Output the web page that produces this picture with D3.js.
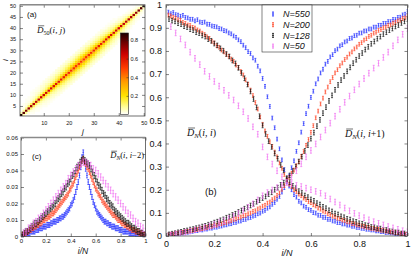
<!DOCTYPE html>
<html lang="en">
<head>
<meta charset="utf-8">
<script src="https://d3js.org/d3.v7.min.js"></script>
<style>
    body { margin: 0; background: #fff; }
    text { font-family: "Liberation Sans", Arial, sans-serif; fill: #111; }
    .math { font-family: "Liberation Serif", "DejaVu Serif", serif; }
</style>
</head>
<body>
<svg id="fig" width="415" height="263"></svg>
<script>
// ---- data ----
const seriesNames = ["N=550", "N=200", "N=128", "N=50"];

// (b) D_N(i,i), points at i/N
const diag550 = [0.968,0.961,0.966,0.957,0.955,0.950,0.954,0.945,0.943,0.937,
    0.937,0.930,0.935,0.925,0.923,0.925,0.916,0.915,0.908,0.906,
    0.904,0.897,0.895,0.888,0.886,0.878,0.874,0.865,0.859,0.848,
    0.840,0.825,0.814,0.797,0.789,0.770,0.760,0.734,0.714,0.681,
    0.647,0.602,0.560,0.510,0.468,0.419,0.377,0.329,0.287,0.240,
    0.216,0.200,0.179,0.168,0.150,0.143,0.129,0.124,0.114,0.111,
    0.101,0.099,0.090,0.089,0.081,0.080,0.072,0.072,0.065,0.064,
    0.058,0.058,0.052,0.052,0.047,0.047,0.042,0.042,0.037,0.037,
    0.033,0.033,0.029,0.029,0.026,0.026,0.022,0.022,0.019,0.019,
    0.015,0.016,0.013,0.013,0.010,0.011,0.007,0.008,0.005,0.006];
const diag200 = [0.955,0.951,0.945,0.942,0.935,0.932,0.923,0.919,0.912,0.910,
    0.902,0.899,0.891,0.886,0.877,0.871,0.861,0.854,0.842,0.835,
    0.823,0.816,0.804,0.796,0.785,0.777,0.765,0.755,0.739,0.728,
    0.711,0.696,0.675,0.656,0.631,0.607,0.577,0.549,0.514,0.483,
    0.454,0.431,0.407,0.387,0.363,0.342,0.316,0.293,0.266,0.243,
    0.224,0.213,0.200,0.192,0.181,0.174,0.164,0.158,0.149,0.144,
    0.135,0.130,0.121,0.116,0.108,0.104,0.096,0.093,0.086,0.083,
    0.077,0.075,0.069,0.067,0.061,0.060,0.054,0.053,0.048,0.047,
    0.043,0.042,0.038,0.037,0.033,0.033,0.029,0.029,0.025,0.025,
    0.021,0.021,0.017,0.017,0.014,0.014,0.010,0.010,0.007,0.007];
const diag128 = [0.938,0.931,0.928,0.920,0.916,0.907,0.903,0.894,
    0.890,0.881,0.877,0.867,0.862,0.851,0.844,0.832,
    0.824,0.811,0.801,0.787,0.776,0.759,0.746,0.727,
    0.705,0.682,0.655,0.625,0.592,0.556,0.518,0.478,
    0.441,0.410,0.385,0.357,0.334,0.307,0.283,0.250,
    0.233,0.217,0.207,0.194,0.186,0.175,0.168,0.158,
    0.152,0.142,0.136,0.126,0.120,0.111,0.106,0.097,
    0.093,0.085,0.081,0.074,0.071,0.064,0.061,0.055,
    0.053,0.047,0.045,0.039,0.038,0.033,0.032,0.027,
    0.026,0.021,0.020,0.016,0.015,0.011,0.011,0.007];
const diag50 = [0.905,0.878,0.852,0.826,0.795,0.768,0.741,0.712,0.690,0.668,
    0.648,0.630,0.608,0.588,0.563,0.537,0.508,0.472,0.440,0.385,
    0.342,0.311,0.282,0.256,0.232,0.226,0.219,0.214,0.207,0.200,
    0.193,0.185,0.174,0.160,0.147,0.134,0.121,0.109,0.098,0.088,
    0.079,0.070,0.062,0.055,0.048,0.041,0.035,0.029,0.023,0.018];

// (b) D_N(i,i+1)
const off550 = [0.004,0.007,0.007,0.010,0.010,0.013,0.013,0.017,0.016,0.020,
    0.020,0.023,0.023,0.027,0.026,0.030,0.030,0.034,0.034,0.038,
    0.038,0.042,0.043,0.047,0.048,0.052,0.053,0.058,0.059,0.064,
    0.065,0.071,0.072,0.078,0.080,0.086,0.089,0.096,0.099,0.107,
    0.111,0.120,0.126,0.137,0.145,0.159,0.171,0.190,0.209,0.236,
    0.260,0.295,0.325,0.366,0.403,0.449,0.486,0.529,0.561,0.599,
    0.626,0.658,0.679,0.705,0.721,0.743,0.755,0.774,0.784,0.801,
    0.808,0.822,0.827,0.839,0.843,0.854,0.856,0.866,0.868,0.877,
    0.878,0.886,0.887,0.895,0.895,0.903,0.903,0.911,0.911,0.919,
    0.919,0.927,0.927,0.936,0.936,0.945,0.946,0.956,0.959,0.970];
const off200 = [0.005,0.008,0.008,0.012,0.012,0.016,0.016,0.020,0.020,0.024,
    0.024,0.028,0.028,0.032,0.032,0.036,0.037,0.041,0.042,0.047,
    0.047,0.052,0.053,0.058,0.059,0.064,0.066,0.072,0.074,0.080,
    0.082,0.088,0.090,0.096,0.099,0.106,0.109,0.117,0.121,0.129,
    0.133,0.142,0.147,0.157,0.164,0.176,0.186,0.202,0.218,0.241,
    0.254,0.271,0.285,0.304,0.321,0.344,0.365,0.392,0.417,0.448,
    0.477,0.511,0.540,0.571,0.596,0.623,0.644,0.667,0.685,0.705,
    0.719,0.736,0.748,0.763,0.773,0.787,0.796,0.809,0.817,0.829,
    0.836,0.847,0.853,0.863,0.868,0.877,0.881,0.889,0.893,0.900,
    0.903,0.910,0.913,0.920,0.923,0.930,0.933,0.940,0.943,0.951];
const off128 = [0.007,0.010,0.012,0.016,0.018,0.022,0.024,0.028,
    0.030,0.034,0.037,0.041,0.044,0.049,0.052,0.058,
    0.062,0.068,0.072,0.079,0.084,0.091,0.096,0.104,
    0.110,0.118,0.124,0.132,0.139,0.148,0.155,0.164,
    0.171,0.181,0.189,0.200,0.209,0.221,0.231,0.246,
    0.262,0.281,0.300,0.322,0.343,0.368,0.393,0.421,
    0.447,0.475,0.502,0.531,0.557,0.584,0.608,0.632,
    0.653,0.674,0.692,0.712,0.729,0.747,0.762,0.778,
    0.791,0.806,0.818,0.831,0.841,0.853,0.862,0.873,
    0.881,0.890,0.897,0.906,0.912,0.921,0.928,0.938];
const off50 = [0.004,0.008,0.012,0.016,0.021,0.026,0.031,0.037,0.043,0.050,
    0.058,0.066,0.075,0.085,0.097,0.110,0.124,0.139,0.156,0.174,
    0.188,0.199,0.209,0.219,0.232,0.255,0.282,0.312,0.342,0.370,
    0.398,0.428,0.458,0.488,0.518,0.548,0.578,0.605,0.632,0.657,
    0.681,0.704,0.726,0.747,0.772,0.795,0.822,0.848,0.872,0.897];

// (c) D_N(i,i-2)
const sec550 = [0.000,0.001,0.001,0.001,0.002,0.002,0.002,0.003,0.003,0.003,
    0.003,0.004,0.004,0.004,0.005,0.005,0.005,0.006,0.006,0.006,
    0.007,0.007,0.007,0.008,0.008,0.009,0.009,0.009,0.010,0.010,
    0.011,0.011,0.012,0.012,0.013,0.014,0.015,0.016,0.017,0.019,
    0.020,0.022,0.024,0.027,0.030,0.033,0.037,0.042,0.048,0.051,
    0.045,0.041,0.037,0.033,0.030,0.027,0.024,0.021,0.019,0.017,
    0.015,0.014,0.013,0.012,0.011,0.010,0.009,0.009,0.008,0.008,
    0.007,0.007,0.006,0.006,0.006,0.005,0.005,0.005,0.004,0.004,
    0.004,0.003,0.003,0.003,0.003,0.003,0.002,0.002,0.002,0.002,
    0.002,0.001,0.001,0.001,0.001,0.001,0.001,0.000,0.000,0.000];
const sec200 = [0.001,0.001,0.002,0.002,0.003,0.003,0.004,0.004,0.005,0.005,
    0.006,0.006,0.007,0.007,0.008,0.008,0.009,0.010,0.010,0.011,
    0.011,0.012,0.012,0.013,0.014,0.014,0.015,0.016,0.017,0.018,
    0.019,0.020,0.021,0.022,0.023,0.024,0.025,0.026,0.028,0.029,
    0.031,0.032,0.034,0.036,0.038,0.040,0.042,0.044,0.046,0.047,
    0.045,0.044,0.042,0.041,0.039,0.037,0.035,0.033,0.031,0.029,
    0.028,0.026,0.025,0.024,0.022,0.021,0.020,0.019,0.018,0.017,
    0.016,0.015,0.014,0.013,0.013,0.012,0.011,0.010,0.010,0.009,
    0.008,0.008,0.007,0.007,0.006,0.006,0.005,0.005,0.004,0.004,
    0.004,0.003,0.003,0.003,0.002,0.002,0.002,0.001,0.001,0.001];
const sec128 = [0.001,0.002,0.003,0.003,0.004,0.005,0.006,0.007,
    0.008,0.008,0.009,0.010,0.011,0.012,0.013,0.014,
    0.015,0.016,0.017,0.018,0.019,0.020,0.022,0.023,
    0.024,0.026,0.027,0.029,0.030,0.032,0.033,0.035,
    0.037,0.038,0.040,0.042,0.043,0.045,0.046,0.047,
    0.046,0.045,0.044,0.043,0.041,0.039,0.037,0.035,
    0.033,0.031,0.030,0.028,0.026,0.025,0.023,0.022,
    0.020,0.019,0.018,0.016,0.015,0.014,0.013,0.012,
    0.011,0.010,0.009,0.008,0.008,0.007,0.006,0.005,
    0.005,0.004,0.003,0.003,0.002,0.002,0.001,0.001];
const sec50 = [0.002,0.003,0.005,0.006,0.008,0.009,0.011,0.012,0.014,0.016,
    0.018,0.020,0.022,0.024,0.026,0.028,0.030,0.032,0.035,0.037,
    0.039,0.041,0.043,0.044,0.045,0.045,0.044,0.043,0.041,0.040,
    0.038,0.036,0.034,0.032,0.030,0.028,0.026,0.024,0.022,0.020,
    0.018,0.016,0.014,0.013,0.011,0.009,0.008,0.006,0.005,0.003];

const errB = [0.008, 0.008, 0.010, 0.012];
const errC = [0.0015, 0.0015, 0.0018, 0.002];

// (a) D_50(i,j): one array per |i-j| = 0..6, indexed by min(i,j)
const heat0 = [0.87,0.8,0.75,0.72,0.7,0.68,0.67,0.66,0.65,0.64,0.63,0.62,0.61,0.6,0.59,0.58,0.57,0.56,0.55,0.54,
    0.53,0.52,0.51,0.5,0.5,0.5,0.51,0.52,0.53,0.54,0.55,0.56,0.57,0.58,0.59,0.6,0.61,0.62,0.63,0.64,
    0.65,0.66,0.67,0.68,0.69,0.7,0.72,0.75,0.8,0.87];
const heat1 = [0.06,0.08,0.1,0.12,0.13,0.14,0.15,0.16,0.17,0.18,0.19,0.2,0.21,0.22,0.23,0.24,0.25,0.26,0.27,0.28,
    0.29,0.29,0.3,0.3,0.3,0.3,0.29,0.29,0.28,0.27,0.26,0.25,0.24,0.23,0.22,0.21,0.2,0.19,0.18,0.17,
    0.16,0.15,0.14,0.13,0.12,0.1,0.08,0.06,0.05];
const heat2 = [0.01,0.02,0.03,0.04,0.05,0.06,0.07,0.08,0.09,0.1,0.1,0.11,0.12,0.13,0.14,0.15,0.16,0.17,0.18,0.18,
    0.19,0.19,0.2,0.2,0.2,0.2,0.19,0.19,0.18,0.18,0.17,0.16,0.15,0.14,0.13,0.12,0.11,0.1,0.1,0.09,
    0.08,0.07,0.06,0.05,0.04,0.03,0.02,0.01];
const heat3 = [0.01,0.01,0.02,0.02,0.03,0.04,0.04,0.05,0.06,0.06,0.07,0.08,0.08,0.09,0.1,0.1,0.11,0.11,0.12,0.12,
    0.13,0.13,0.14,0.14,0.14,0.13,0.13,0.12,0.12,0.11,0.11,0.1,0.1,0.09,0.08,0.08,0.07,0.06,0.06,0.05,
    0.04,0.04,0.03,0.02,0.02,0.01,0.01];
const heat4 = [0,0.01,0.01,0.01,0.02,0.02,0.03,0.03,0.04,0.04,0.05,0.05,0.06,0.06,0.07,0.07,0.08,0.08,0.08,0.09,
    0.09,0.09,0.09,0.09,0.09,0.09,0.09,0.08,0.08,0.08,0.07,0.07,0.06,0.06,0.05,0.05,0.04,0.04,0.03,0.03,
    0.02,0.02,0.01,0.01,0,0];
const heat5 = [0,0,0.01,0.01,0.01,0.02,0.02,0.02,0.03,0.03,0.03,0.04,0.04,0.04,0.04,0.05,0.05,0.05,0.05,0.05,
    0.05,0.05,0.05,0.05,0.05,0.05,0.05,0.04,0.04,0.04,0.04,0.03,0.03,0.03,0.02,0.02,0.02,0.01,0.01,0.01,
    0,0,0,0,0];
const heat6 = [0,0,0,0,0.01,0.01,0.01,0.01,0.01,0.02,0.02,0.02,0.02,0.02,0.03,0.03,0.03,0.03,0.03,0.03,
    0.03,0.03,0.03,0.03,0.03,0.03,0.03,0.03,0.02,0.02,0.02,0.02,0.02,0.01,0.01,0.01,0.01,0.01,0,0,
    0,0,0,0];

// tick values
const aTicksX = [10, 20, 30, 40, 50];
const aTicksY = [5, 10, 15, 20, 25, 30, 35, 40, 45, 50];
const cbTicks = [0.2, 0.4, 0.6, 0.8];
const bTicksX = [0, 0.2, 0.4, 0.6, 0.8, 1];
const bTicksY = [0, 0.1, 0.2, 0.3, 0.4, 0.5, 0.6, 0.7, 0.8, 0.9, 1];
const cTicksX = [0, 0.2, 0.4, 0.6, 0.8, 1];
const cTicksY = [0, 0.01, 0.02, 0.03, 0.04, 0.05, 0.06];

// ---- drawing ----
const svg = d3.select("#fig");
const colors = ["#1f2cff", "#ff4424", "#111111", "#f070f0"];
const fmt = d3.format("~g");

const ax = d3.scaleLinear().domain([0.5, 50.5]).range([20, 145]);
const ay = d3.scaleLinear().domain([0.5, 50.5]).range([116, 4.7]);
const bx = d3.scaleLinear().domain([0, 1]).range([166, 407.5]);
const by = d3.scaleLinear().domain([0, 1]).range([236, 4.7]);
const cx = d3.scaleLinear().domain([0, 1]).range([21, 145.5]);
const cy = d3.scaleLinear().domain([0, 0.06]).range([236.5, 137.5]);

const heatColor = d3.scaleLinear()
    .domain([0, 0.08, 0.2, 0.35, 0.5, 0.65, 0.8, 0.875])
    .range(["#ffffff", "#ffff9a", "#ffe400", "#ff9d00", "#ff3c00", "#cc0000", "#5a0000", "#1a0000"])
    .clamp(true);

function clipFor(id, x, y) {
    svg.append("clipPath").attr("id", id).append("rect")
        .attr("x", x.range()[0]).attr("y", y.range()[1])
        .attr("width", x.range()[1] - x.range()[0])
        .attr("height", y.range()[0] - y.range()[1]);
    return svg.append("g").attr("clip-path", `url(#${id})`);
}

function drawAxes(x, y, xt, yt, size, padX, padY) {
    const [x0, x1] = x.range(), [y0, y1] = y.range();
    const g = svg.append("g");
    const style = sel => {
        sel.select(".domain").remove();
        sel.selectAll(".tick line").attr("stroke", "#333").attr("stroke-width", 0.6);
        sel.selectAll("text").style("font-size", size + "px").attr("fill", "#111");
    };
    g.append("g").attr("transform", `translate(0,${y0})`)
        .call(d3.axisBottom(x).tickValues(xt).tickSize(-3).tickPadding(padX).tickFormat(fmt)).call(style);
    g.append("g").attr("transform", `translate(${x0},0)`)
        .call(d3.axisLeft(y).tickValues(yt).tickSize(-3).tickPadding(padY).tickFormat(fmt)).call(style);
    g.append("g").attr("transform", `translate(0,${y1})`)
        .call(d3.axisTop(x).tickValues(xt).tickSize(-3).tickFormat("")).call(style);
    g.append("g").attr("transform", `translate(${x1},0)`)
        .call(d3.axisRight(y).tickValues(yt).tickSize(-3).tickFormat("")).call(style);
    g.append("rect").attr("x", x0).attr("y", y1).attr("width", x1 - x0).attr("height", y0 - y1)
        .attr("fill", "none").attr("stroke", "#333").attr("stroke-width", 0.7);
    g.append("line").attr("x1", x0).attr("x2", x1).attr("y1", y1).attr("y2", y1)
        .attr("stroke", "#8a8a8a").attr("stroke-width", 1.6);
}

function errSeries(g, x, y, vals, err, color, w) {
    const n = vals.length;
    g.append("path")
        .attr("d", vals.map((v, k) => {
            const px = x((k + 1) / n), t = y(v + err), b = y(v - err), m = y(v);
            return `M${px - w},${t}H${px + w}M${px},${t}V${b}M${px - w},${b}H${px + w}M${px - 0.8},${m}H${px + 0.8}`;
        }).join(""))
        .attr("fill", "none").attr("stroke", color).attr("stroke-width", 0.7);
}

function mathLabel(x, y, sub, args, size, anchor) {
    const t = svg.append("text").attr("class", "math").attr("x", x).attr("y", y)
        .attr("text-anchor", anchor || "start").style("font-size", size + "px");
    const d = t.append("tspan").text("D").style("font-style", "italic");
    t.append("tspan").text(sub).attr("dy", size * 0.22).style("font-size", (size * 0.68) + "px")
        .style("font-style", /[A-Z]/.test(sub) ? "italic" : "normal");
    let first = true;
    for (const ch of args) {
        const s = t.append("tspan").text(ch).style("font-style", /[a-z]/.test(ch) ? "italic" : "normal");
        if (first) { s.attr("dy", -size * 0.22); first = false; }
    }
    const bb = d.node().getExtentOfChar(0);
    svg.append("line").attr("x1", bb.x + size * 0.12).attr("x2", bb.x + bb.width + size * 0.08)
        .attr("y1", y - size * 0.8).attr("y2", y - size * 0.8)
        .attr("stroke", "#111").attr("stroke-width", 0.6);
}

// panel (a): heat map
const bands = [heat0, heat1, heat2, heat3, heat4, heat5, heat6];
const cells = [];
for (let i = 1; i <= 50; i++) {
    for (let j = 1; j <= 50; j++) {
        const k = Math.abs(i - j);
        if (k < bands.length) cells.push({ i, j, v: bands[k][Math.min(i, j) - 1] });
    }
}
const ga = clipFor("clipA", ax, ay);
ga.selectAll("rect").data(cells).join("rect")
    .attr("x", d => ax(d.j - 0.5)).attr("y", d => ay(d.i + 0.5))
    .attr("width", ax(1.5) - ax(0.5) + 0.2).attr("height", ay(0.5) - ay(1.5) + 0.2)
    .attr("fill", d => heatColor(d.v));
drawAxes(ax, ay, aTicksX, aTicksY, 5.5, 5, 4);

// colour bar
const cb = d3.scaleLinear().domain([0, 0.875]).range([114.5, 33]);
const grad = svg.append("defs").append("linearGradient").attr("id", "cbGrad")
    .attr("x1", 0).attr("x2", 0).attr("y1", 1).attr("y2", 0);
heatColor.domain().forEach(v => grad.append("stop")
    .attr("offset", v / 0.875).attr("stop-color", heatColor(v)));
svg.append("rect").attr("x", 120.5).attr("y", cb(0.875)).attr("width", 8)
    .attr("height", cb(0) - cb(0.875)).attr("fill", "url(#cbGrad)")
    .attr("stroke", "#222").attr("stroke-width", 0.6);
const cbAxis = svg.append("g").attr("transform", "translate(128.5,0)")
    .call(d3.axisRight(cb).tickValues(cbTicks).tickSize(-2).tickPadding(2).tickFormat(fmt));
cbAxis.select(".domain").remove();
cbAxis.selectAll(".tick line").attr("stroke", "#222").attr("stroke-width", 0.5);
cbAxis.selectAll("text").style("font-size", "5.5px");

svg.append("text").attr("x", 27).attr("y", 17).style("font-size", "8px").text("(a)");
mathLabel(37, 33, "50", "(i, j)", 9);
svg.append("text").attr("x", 83).attr("y", 133.5).attr("text-anchor", "middle")
    .style("font-size", "8px").style("font-style", "italic").text("j");
svg.append("text").attr("transform", "translate(8,60) rotate(-90)").attr("text-anchor", "middle")
    .style("font-size", "8px").style("font-style", "italic").text("i");

// panel (c)
const gc = clipFor("clipC", cx, cy);
[sec550, sec200, sec128, sec50].forEach((s, k) => errSeries(gc, cx, cy, s, errC[k], colors[k], 0.9));
drawAxes(cx, cy, cTicksX, cTicksY, 6, 2.5, 3);
svg.append("text").attr("x", 32).attr("y", 158.5).style("font-size", "8px").text("(c)");
mathLabel(144, 158, "N", "(i, i−2)", 8.5, "end");
svg.append("text").attr("x", 83).attr("y", 254).attr("text-anchor", "middle")
    .style("font-size", "8.5px").style("font-style", "italic").text("i/N");

// panel (b)
const gb = clipFor("clipB", bx, by);
[diag550, diag200, diag128, diag50].forEach((s, k) => errSeries(gb, bx, by, s, errB[k], colors[k], 1));
[off550, off200, off128, off50].forEach((s, k) => errSeries(gb, bx, by, s, errB[k], colors[k], 1));
drawAxes(bx, by, bTicksX, bTicksY, 9, 4.5, 4);
svg.append("text").attr("x", 287).attr("y", 256).attr("text-anchor", "middle")
    .style("font-size", "9px").style("font-style", "italic").text("i/N");
svg.append("text").attr("x", 205).attr("y", 194.5).style("font-size", "9.5px").text("(b)");
mathLabel(187, 136, "N", "(i, i)", 10);
mathLabel(345, 137, "N", "(i, i+1)", 10);

// legend
const lg = svg.append("g");
lg.append("rect").attr("x", 262).attr("y", 5).attr("width", 50).attr("height", 47)
    .attr("fill", "#fff").attr("stroke", "#333").attr("stroke-width", 0.6);
seriesNames.forEach((name, k) => {
    const yy = 14 + k * 10.7;
    lg.append("path").attr("d", `M272,${yy - 2}H274M273,${yy - 2}V${yy + 2}M272,${yy + 2}H274M272,${yy}H274`)
        .attr("stroke", colors[k]).attr("stroke-width", 0.8).attr("fill", "none");
    lg.append("text").attr("x", 283).attr("y", yy + 3.2).style("font-size", "9px")
        .style("font-style", "italic").text(name);
});
</script>
</body>
</html>
